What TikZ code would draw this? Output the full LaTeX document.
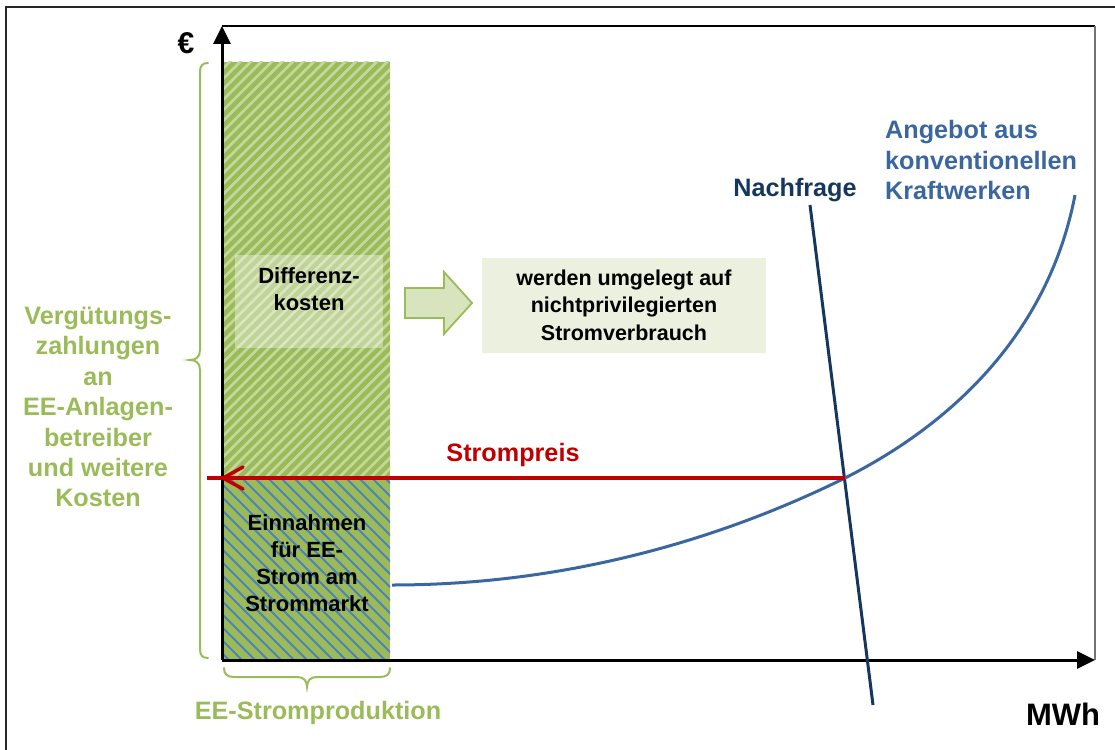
\documentclass[tikz,border=0pt]{standalone}
\usepackage{fontspec}
\setmainfont{Liberation Sans}
\usetikzlibrary{arrows.meta}
\definecolor{eegreen}{HTML}{9BBB59}
\definecolor{lightstripe}{HTML}{C4D89E}
\definecolor{bluestripe}{HTML}{4F81BD}
\definecolor{boxfill}{HTML}{EBF1DE}
\definecolor{arrowfill}{HTML}{D7E4BD}
\definecolor{pricered}{HTML}{C00000}
\definecolor{navy}{HTML}{17365D}
\definecolor{supplyblue}{HTML}{3A679F}
\begin{document}
\begin{tikzpicture}[x=1pt,y=-1pt,
  txt/.style={inner sep=0pt,align=center,font=\bfseries\fontsize{22}{27}\selectfont},
  bigtxt/.style={inner sep=0pt,align=center,font=\bfseries\fontsize{25.2}{30.4}\selectfont},
  axis/.style={line width=3pt,-{Triangle[length=18pt,width=17pt]}},
  brace/.style={draw=eegreen,line width=2pt,line cap=round}]
\useasboundingbox (0,0) rectangle (1115,749);
% outer frame
\draw[line width=2pt,black!85] (6,760) -- (6,7) -- (1125,7);
% coordinates
\coordinate (O) at (222,660);
\coordinate (Ytop) at (222,26);
\coordinate (Xend) at (1095,660);
\coordinate (TR) at (1095,26);
% inner frame
\draw[line width=1.2pt,black] (Ytop) -- (TR);
\draw[line width=1.5pt,black!55] (TR) -- (Xend);
% bar upper part
\begin{scope}
\clip (224,62) rectangle (390,478);
\fill[eegreen] (224,62) rectangle (390,478);
\foreach \a in {-400,-389.5,...,400}
  \draw[lightstripe,line width=2.8pt] (\a,660) -- (\a+620,40);
\end{scope}
% bar lower part
\begin{scope}
\clip (224,478) rectangle (390,660);
\fill[eegreen] (224,478) rectangle (390,660);
\foreach \a in {0,13,...,400}
  \draw[bluestripe,line width=2pt] (\a,470) -- (\a+200,670);
\end{scope}
% Differenzkosten overlay box
\fill[white,opacity=0.38] (235,255) rectangle (383,348);
\node[txt] (diff) at (309,289) {Differenz-\\kosten};
% Einnahmen text
\node[txt] (einn) at (307,563) {Einnahmen\\für EE-\\Strom am\\Strommarkt};
% block arrow
\draw[eegreen,fill=arrowfill,line width=1.8pt,line join=miter]
  (405,288) -- (444,288) -- (444,272) -- (472,303) -- (444,334) -- (444,318) -- (405,318) -- cycle;
% right box
\node[txt,fill=boxfill,minimum width=284pt,minimum height=95pt,font=\bfseries\fontsize{21.5}{27.5}\selectfont] (umlage) at (624,305) {werden umgelegt auf\\nichtprivilegierten\\Stromverbrauch};
% axes
\draw[axis] (O) -- (Ytop);
\draw[axis] (O) -- (Xend);
% curves
\coordinate (N1) at (810,205);
\coordinate (N2) at (873,705);
\coordinate (S0) at (392,585);
\coordinate (S1) at (845,478);
\coordinate (S2) at (1075,195);
\coordinate (P0) at (207,478);
\coordinate (Ptip) at (223,478);
\draw[navy,line width=3pt] (N1) -- (N2);
\draw[supplyblue,line width=3pt] (S0) .. controls (600,585) and (760,520) .. (S1)
   .. controls (950,425) and (1048,335) .. (S2);
% price arrow
\draw[pricered,line width=3.5pt] (S1) -- (P0);
\draw[pricered,line width=3.5pt,line cap=round,line join=round] (243,467) -- (Ptip) -- (243,489);
% braces
\draw[brace] (208,63) .. controls (202,63) and (200,66) .. (200,72) -- (200,350)
  .. controls (200,357) and (196,360) .. (190,360)
  .. controls (196,360) and (200,363) .. (200,370) -- (200,649)
  .. controls (200,655) and (202,658) .. (208,658);
\draw[brace] (224,668) .. controls (224,674) and (227,677) .. (234,677) -- (297,677)
  .. controls (303,677) and (307,680) .. (307,687)
  .. controls (307,680) and (311,677) .. (317,677) -- (380,677)
  .. controls (387,677) and (390,674) .. (390,668);
% labels
\node[bigtxt,text=eegreen] (verg) at (98,407) {Vergütungs-\\zahlungen\\an\\EE-Anlagen-\\betreiber\\und weitere\\Kosten};
\node[bigtxt,text=eegreen] (eeprod) at (318,713) {EE-Stromproduktion};
\node[bigtxt,text=pricered] (preis) at (513,455) {Strompreis};
\node[bigtxt,text=navy] (nachf) at (795,190) {Nachfrage};
\node[bigtxt,text=supplyblue,align=left,anchor=west] (angebot) at (885,160) {Angebot aus\\konventionellen\\Kraftwerken};
\node[inner sep=0pt,font=\bfseries\fontsize{31}{36}\selectfont] (mwh) at (1063,714) {MWh};
\node[inner sep=0pt,font=\bfseries\fontsize{30}{36}\selectfont] (euro) at (186,43) {€};
\end{tikzpicture}
\end{document}
